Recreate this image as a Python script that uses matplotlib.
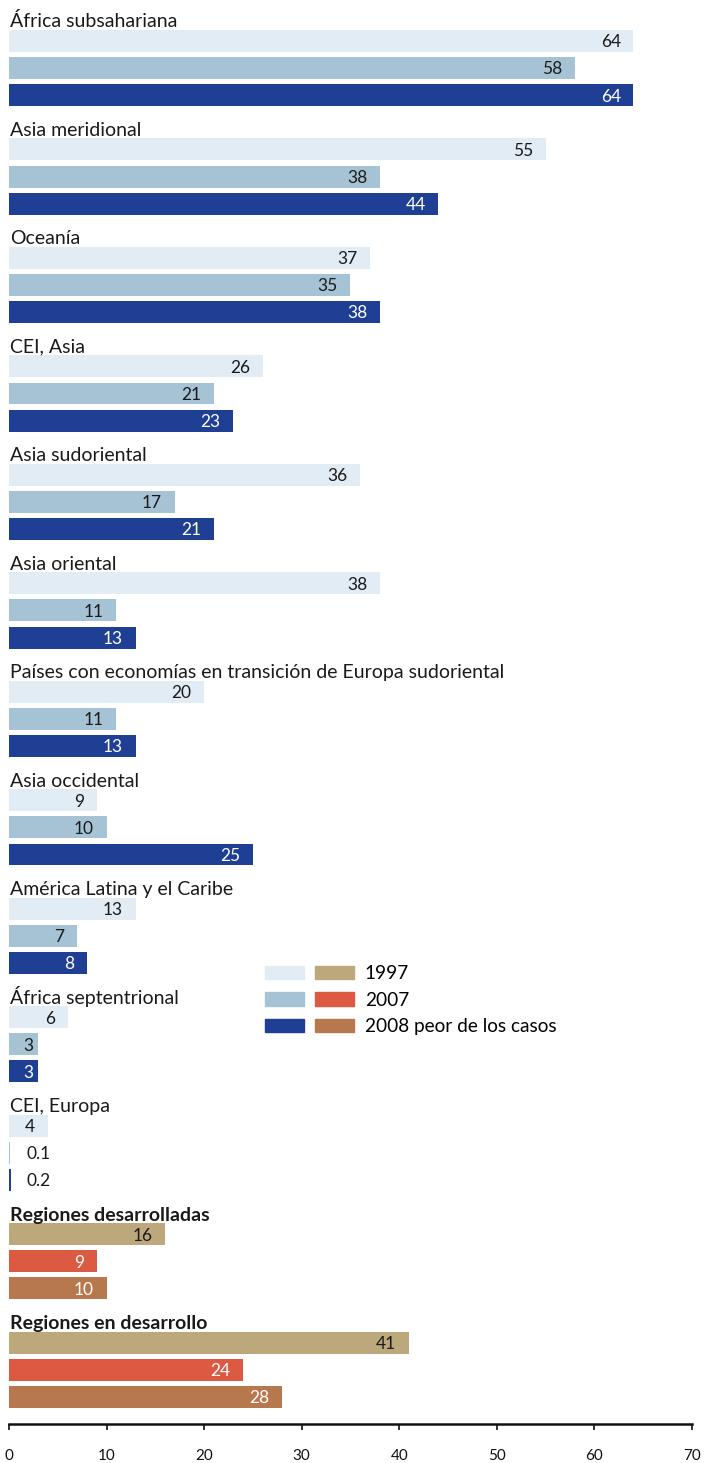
import matplotlib
matplotlib.use("Agg")
import matplotlib.pyplot as plt
from matplotlib.patches import Patch
from matplotlib.legend_handler import HandlerTuple

plt.rcParams['font.family'] = ['Lato', 'DejaVu Sans']

# --- Data ---
regions = [
    "África subsahariana",
    "Asia meridional",
    "Oceanía",
    "CEI, Asia",
    "Asia sudoriental",
    "Asia oriental",
    "Países con economías en transición de Europa sudoriental",
    "Asia occidental",
    "América Latina y el Caribe",
    "África septentrional",
    "CEI, Europa",
    "Regiones desarrolladas",
    "Regiones en desarrollo",
]
v1997 = [64, 55, 37, 26, 36, 38, 20, 9, 13, 6, 4, 16, 41]
v2007 = [58, 38, 35, 21, 17, 11, 11, 10, 7, 3, 0.1, 9, 24]
v2008 = [64, 44, 38, 23, 21, 13, 13, 25, 8, 3, 0.2, 10, 28]
aggregates = ["Regiones desarrolladas", "Regiones en desarrollo"]
series_names = ["1997", "2007", "2008 peor de los casos"]
xticks = [0, 10, 20, 30, 40, 50, 60, 70]

# --- Styles ---
blue_colors = ["#e1ecf4", "#a6c3d5", "#1f3f94"]
tan_colors = ["#bda87b", "#dd5a42", "#b8784e"]
blue_text = ["#1a1a1a", "#1a1a1a", "white"]
tan_text = ["#1a1a1a", "white", "white"]

fig = plt.figure(figsize=(7.05, 14.63), dpi=100)
ax = fig.add_axes([9 / 705, 1 - 1424 / 1463, (692 - 9) / 705, 1424 / 1463])

bar_h = 0.81
for g, name in enumerate(regions):
    base = 4 * g
    agg = name in aggregates
    colors = tan_colors if agg else blue_colors
    tcolors = tan_text if agg else blue_text
    ax.text(0.15, base + 0.5, name, ha='left', va='baseline', fontsize=14,
            fontweight='bold' if agg else 'normal', color="#1a1a1a")
    for k, vals in enumerate([v1997, v2007, v2008]):
        val = vals[g]
        y = base + 1 + k
        ax.barh(y, val, height=bar_h, color=colors[k], linewidth=0)
        lab = f"{val:g}"
        if val < 1:
            ax.text(1.8, y + 0.05, lab, ha='left', va='center',
                    fontsize=12.5, color="#1a1a1a")
        else:
            ax.text(max(val - 1.3, 2.5), y + 0.05, lab, ha='right', va='center',
                    fontsize=12.5, color=tcolors[k])

ax.set_xlim(0, 70)
ax.set_ylim(52.0, -0.51)
ax.set_xticks(xticks)
ax.set_xticklabels([str(t) for t in xticks], fontsize=11)
ax.set_yticks([])
for s in ["top", "left", "right"]:
    ax.spines[s].set_visible(False)
ax.spines["bottom"].set_linewidth(1.8)
ax.spines["bottom"].set_color("#111111")
ax.tick_params(axis='x', direction='out', length=4, width=1.2, pad=14, colors="#111111")

handles = [(Patch(color=blue_colors[i]), Patch(color=tan_colors[i])) for i in range(3)]
fig.legend(handles, series_names, loc='upper left',
           bbox_to_anchor=(265 / 705, 1 - 965 / 1463),
           handler_map={tuple: HandlerTuple(ndivide=None, pad=0.55)},
           frameon=False, fontsize=13.7, borderpad=0, borderaxespad=0,
           handlelength=4.7, handleheight=0.7, handletextpad=0.55,
           labelspacing=0.5)

fig.savefig("out.png", dpi=100)
